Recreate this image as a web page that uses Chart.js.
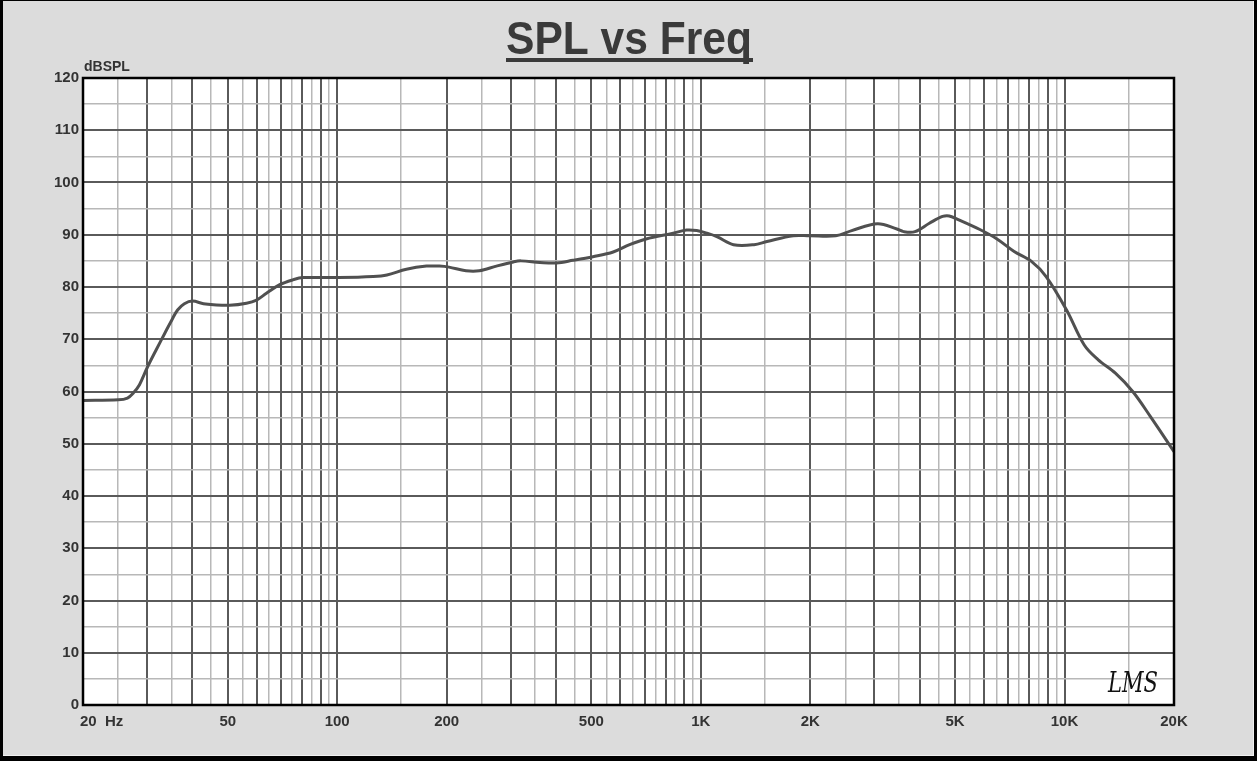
<!DOCTYPE html>
<html>
<head>
<meta charset="utf-8">
<script src="https://cdn.jsdelivr.net/npm/chart.js@4/dist/chart.umd.min.js"></script>
<style>
  html, body { margin: 0; padding: 0; background: #000; }
  canvas { display: block; }
</style>
</head>
<body>
<canvas id="spl" width="1257" height="761"></canvas>
<script>
// frequence (Hz) et niveau (dBSPL)
const freq = [20, 25, 26.5, 27.5, 28.6, 30, 31.8, 33.6, 35.1, 36.4, 38, 40, 42.9, 45.7, 50.6, 56.3, 60, 63.9, 69.3, 75.8, 80.5,
    101, 125.6, 137, 155, 176, 191, 203, 226, 246, 274, 305, 320, 361, 401, 445, 505, 574, 637, 707, 839,
    914, 974, 1040, 1110, 1230, 1400, 1520, 1795, 1990, 2350, 2600, 3060, 3460, 3610, 3880, 4250, 4620,
    4820, 5140, 5850, 6520, 7270, 8110, 8900, 10130, 11330, 12360, 13800, 15400, 17230, 20000];
const spl = [58.3, 58.4, 58.75, 59.7, 61.3, 64.5, 68.0, 71.2, 73.7, 75.6, 76.8, 77.3, 76.8, 76.6, 76.5, 76.9, 77.5, 78.8, 80.4, 81.4, 81.8,
    81.8, 82.0, 82.3, 83.4, 84.0, 84.0, 83.8, 83.1, 83.1, 84.0, 84.8, 85.0, 84.7, 84.6, 85.1, 85.8, 86.7, 88.1, 89.2, 90.3,
    90.9, 90.8, 90.3, 89.6, 88.1, 88.1, 88.7, 89.8, 89.8, 89.8, 90.8, 92.1, 91.1, 90.6, 90.6, 92.2, 93.5,
    93.6, 92.8, 91.0, 89.2, 86.8, 84.9, 82.0, 75.6, 68.9, 66.1, 63.5, 60.0, 55.2, 48.5];

const xLabelValues = [20, 50, 100, 200, 500, 1000, 2000, 5000, 10000, 20000];
const xLabels = ['20  Hz', '50', '100', '200', '500', '1K', '2K', '5K', '10K', '20K'];

// lignes de grille : 1, 1.5, 2, 2.5 ... 9.5 par décade
const xGrid = [];
[10, 100, 1000, 10000].forEach(function (d) {
    for (let m = 1; m < 10; m += 0.5) {
        const v = m * d;
        if (v >= 20 && v <= 20000) xGrid.push(v);
    }
});
xGrid.push(20000);

const FONT = '"Liberation Sans Narrow", "Arial Narrow", "Liberation Sans", Arial, sans-serif';
const DARK = '#5a5a5a';
const LIGHT = '#b8b8b8';

function isMajorX(v) {
    const d = Math.pow(10, Math.floor(Math.log10(v) + 1e-9));
    return Math.abs(v / d - Math.round(v / d)) < 1e-6;
}

const habillage = {
    id: 'habillage',
    beforeDraw(chart) {
        const ctx = chart.ctx;
        const a = chart.chartArea;
        ctx.save();
        ctx.fillStyle = '#000';
        ctx.fillRect(0, 0, chart.width, chart.height);
        ctx.fillStyle = '#f0f0f0';
        ctx.fillRect(3, 1, 1251, 755);
        ctx.fillStyle = '#dcdcdc';
        ctx.fillRect(3, 1, 1250, 754);
        ctx.fillStyle = '#fff';
        ctx.fillRect(a.left, a.top, a.right - a.left, a.bottom - a.top);
        ctx.restore();
    },
    afterDraw(chart) {
        const ctx = chart.ctx;
        const a = chart.chartArea;
        const xs = chart.scales.x;
        ctx.save();
        // cadre du graphe
        ctx.strokeStyle = '#000';
        ctx.lineWidth = 2.5;
        ctx.strokeRect(a.left, a.top, a.right - a.left, a.bottom - a.top);

        // titre souligné
        ctx.fillStyle = '#3a3a3a';
        ctx.font = 'bold 47px "Liberation Sans", Arial, sans-serif';
        ctx.textBaseline = 'alphabetic';
        ctx.textAlign = 'left';
        const t = 'SPL vs Freq';
        const sx = 246 / ctx.measureText(t).width;
        ctx.save();
        ctx.translate(506, 54);
        ctx.scale(sx, 1);
        ctx.fillText(t, 0, 0);
        ctx.restore();
        ctx.fillRect(506, 58, 247, 4);

        // unité axe Y
        ctx.fillStyle = '#333';
        ctx.font = 'bold 14px ' + FONT;
        ctx.fillText('dBSPL', 84, 71);

        // étiquettes axe X
        ctx.font = 'bold 15px ' + FONT;
        xLabelValues.forEach(function (v, i) {
            const px = xs.getPixelForValue(v);
            ctx.textAlign = i === 0 ? 'left' : 'center';
            ctx.fillText(xLabels[i], i === 0 ? px - 3 : px, 726);
        });

        // signature
        ctx.fillStyle = '#111';
        ctx.textAlign = 'left';
        ctx.font = 'italic 28px "DejaVu Serif", serif';
        const s = 'LMS';
        const ss = 50 / ctx.measureText(s).width;
        ctx.save();
        ctx.translate(1108, 692);
        ctx.scale(ss, 1);
        ctx.fillText(s, 0, 0);
        ctx.restore();
        ctx.restore();
    }
};

new Chart(document.getElementById('spl'), {
    type: 'line',
    data: {
        datasets: [{
            data: freq.map(function (f, i) { return { x: f, y: spl[i] }; }),
            borderColor: '#505050',
            borderWidth: 3,
            pointRadius: 0,
            fill: false,
            tension: 0.35
        }]
    },
    options: {
        responsive: false,
        animation: false,
        layout: { padding: { left: 0, top: 78, right: 83, bottom: 0 } },
        plugins: {
            legend: { display: false },
            title: { display: false },
            tooltip: { enabled: false }
        },
        scales: {
            x: {
                type: 'logarithmic',
                min: 20,
                max: 20000,
                afterBuildTicks(scale) {
                    scale.ticks = xGrid.map(function (v) { return { value: v }; });
                },
                afterFit(scale) { scale.height = 56; },
                ticks: { display: false },
                border: { display: false },
                grid: {
                    drawTicks: false,
                    color: function (c) { return isMajorX(c.tick.value) ? DARK : LIGHT; },
                    lineWidth: function (c) { return isMajorX(c.tick.value) ? 2 : 1.5; }
                }
            },
            y: {
                min: 0,
                max: 120,
                afterFit(scale) { scale.width = 83; },
                border: { display: false },
                ticks: {
                    stepSize: 5,
                    autoSkip: false,
                    padding: 4,
                    color: '#333',
                    font: { family: FONT, size: 15, weight: 'bold' },
                    callback: function (v) { return v % 10 === 0 ? v : ''; }
                },
                grid: {
                    drawTicks: false,
                    color: function (c) { return c.tick.value % 10 === 0 ? DARK : LIGHT; },
                    lineWidth: function (c) { return c.tick.value % 10 === 0 ? 2 : 1.5; }
                }
            }
        }
    },
    plugins: [habillage]
});
</script>
</body>
</html>
